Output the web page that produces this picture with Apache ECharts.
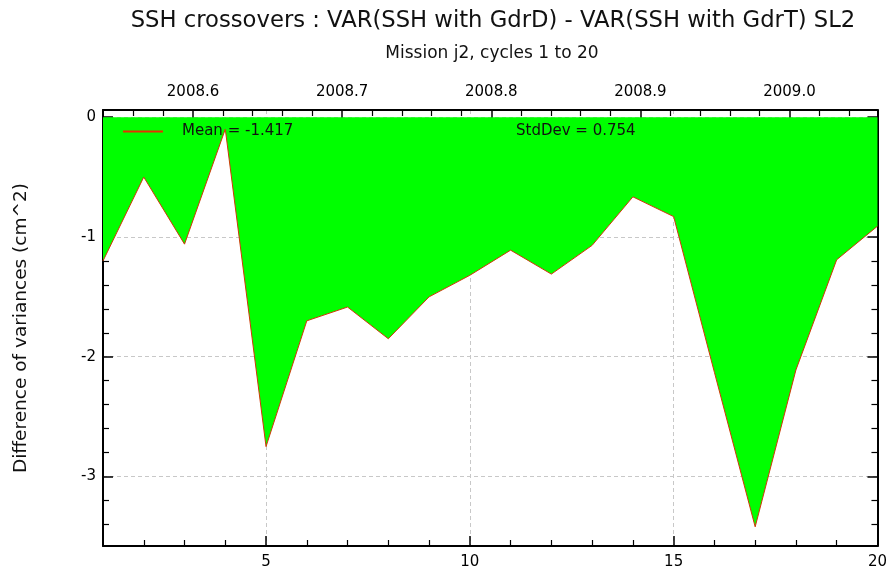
<!DOCTYPE html>
<html>
<head>
<meta charset="utf-8">
<script src="https://cdn.jsdelivr.net/npm/echarts@6/dist/echarts.min.js"></script>
<style>
  html, body { margin: 0; padding: 0; background: #fff; }
  #main { width: 890px; height: 576px; }
</style>
</head>
<body>
<div id="main"></div>
<script>
// cycle numbers and difference of variances (cm^2)
const cycles = [1, 2, 3, 4, 5, 6, 7, 8, 9, 10, 11, 12, 13, 14, 15, 16, 17, 18, 19, 20];
const varDiff = [-1.20, -0.50, -1.06, -0.10, -2.75, -1.70, -1.585, -1.85, -1.50, -1.32,
                 -1.11, -1.31, -1.07, -0.665, -0.83, -2.13, -3.42, -2.11, -1.19, -0.91];

// tick positions
const cycleTicks = [5, 10, 15, 20];
const cycleMinor = [2, 3, 4, 6, 7, 8, 9, 11, 12, 13, 14, 16, 17, 18, 19];
const diffTicks = [-3, -2, -1, 0];
const diffMinor = [-3.4, -3.2, -2.8, -2.6, -2.4, -2.2, -1.8, -1.6, -1.4, -1.2,
                   -0.8, -0.6, -0.4, -0.2];
const yearTicks = [2008.6, 2008.7, 2008.8, 2008.9, 2009.0];
const yearMinor = [2008.56, 2008.58, 2008.62, 2008.64, 2008.66, 2008.68, 2008.72, 2008.74,
                   2008.76, 2008.78, 2008.82, 2008.84, 2008.86, 2008.88, 2008.92, 2008.94,
                   2008.96, 2008.98, 2009.02, 2009.04];

const meanText = 'Mean = -1.417';
const stdText = 'StdDev = 0.754';

const FONT = 'DejaVu Sans';
const chart = echarts.init(document.getElementById('main'), null, { renderer: 'canvas' });

// shared bits for the axis frame
const frameLine = { show: true, onZero: false, lineStyle: { color: '#000', width: 2 } };
const majorTick = (vals) => ({ show: true, inside: true, length: 10, customValues: vals,
  lineStyle: { color: '#000', width: 1.5 } });
const minorTick = (vals) => ({ show: true, inside: true, length: 6, customValues: vals,
  lineStyle: { color: '#000', width: 1.2 } });
const dashed = { show: true, lineStyle: { color: '#c8c8c8', type: [4, 3], width: 1 } };
const noLabel = { show: false };
const tickLabel = (vals, extra) => Object.assign({ show: true, customValues: vals,
  color: '#000', fontFamily: FONT, fontSize: 15 }, extra || {});

const option = {
  animation: false,
  backgroundColor: '#fff',
  title: [
    {
      text: 'SSH crossovers : VAR(SSH with GdrD) - VAR(SSH with GdrT) SL2',
      left: 488, top: 5, textAlign: 'center',
      textStyle: { fontFamily: FONT, fontSize: 22.7, fontWeight: 'normal', color: '#111' }
    },
    {
      text: 'Mission j2, cycles 1 to 20',
      left: 487, top: 40, textAlign: 'center',
      textStyle: { fontFamily: FONT, fontSize: 17, fontWeight: 'normal', color: '#111' }
    }
  ],
  legend: {
    data: [meanText],
    left: 123, top: 124,
    padding: 0,
    icon: 'rect',
    itemWidth: 40, itemHeight: 2,
    itemStyle: { color: '#e83000', borderWidth: 0 },
    selectedMode: false,
    textStyle: { fontFamily: FONT, fontSize: 15, color: '#111', padding: [0, 0, 0, 14] }
  },
  graphic: [
    {
      type: 'text', left: 516, top: 124, silent: true, z: 100,
      style: { text: stdText, font: '15px "DejaVu Sans"', fill: '#111' }
    }
  ],
  grid: { left: 103, right: 12, top: 110, bottom: 30 },
  xAxis: [
    {
      type: 'value', position: 'bottom', min: 1, max: 20,
      axisLine: frameLine, axisTick: majorTick(cycleTicks),
      axisLabel: tickLabel(cycleTicks, { margin: 9 }),
      splitLine: dashed
    },
    {
      type: 'value', position: 'bottom', min: 1, max: 20,
      axisLine: { show: false, onZero: false }, axisTick: minorTick(cycleMinor),
      axisLabel: noLabel, splitLine: { show: false }
    },
    {
      type: 'value', position: 'top', min: 2008.5396, max: 2009.059,
      axisLine: frameLine, axisTick: majorTick(yearTicks),
      axisLabel: tickLabel(yearTicks, { margin: 10, formatter: (v) => v.toFixed(1) }),
      splitLine: { show: false }
    },
    {
      type: 'value', position: 'top', min: 2008.5396, max: 2009.059,
      axisLine: { show: false, onZero: false }, axisTick: minorTick(yearMinor),
      axisLabel: noLabel, splitLine: { show: false }
    }
  ],
  yAxis: [
    {
      type: 'value', position: 'left', min: -3.58, max: 0.06,
      name: 'Difference of variances (cm^2)',
      nameLocation: 'middle', nameGap: 72, nameRotate: 90,
      nameTextStyle: { fontFamily: FONT, fontSize: 18.5, color: '#111' },
      axisLine: frameLine, axisTick: majorTick(diffTicks),
      axisLabel: tickLabel(diffTicks, { margin: 7 }),
      splitLine: dashed
    },
    {
      type: 'value', position: 'left', min: -3.58, max: 0.06,
      axisLine: { show: false, onZero: false }, axisTick: minorTick(diffMinor),
      axisLabel: noLabel, splitLine: { show: false }
    },
    {
      type: 'value', position: 'right', min: -3.58, max: 0.06,
      axisLine: frameLine, axisTick: majorTick(diffTicks),
      axisLabel: noLabel, splitLine: { show: false }
    },
    {
      type: 'value', position: 'right', min: -3.58, max: 0.06,
      axisLine: { show: false, onZero: false }, axisTick: minorTick(diffMinor),
      axisLabel: noLabel, splitLine: { show: false }
    }
  ],
  series: [
    {
      name: meanText,
      type: 'line',
      xAxisIndex: 0, yAxisIndex: 0,
      data: cycles.map((c, i) => [c, varDiff[i]]),
      showSymbol: false,
      silent: true,
      itemStyle: { color: '#e83000' },
      lineStyle: { color: '#d03808', width: 1 },
      areaStyle: { color: '#00ff00', opacity: 1, origin: 'auto' },
      z: 1
    }
  ]
};

chart.setOption(option);
</script>
</body>
</html>
